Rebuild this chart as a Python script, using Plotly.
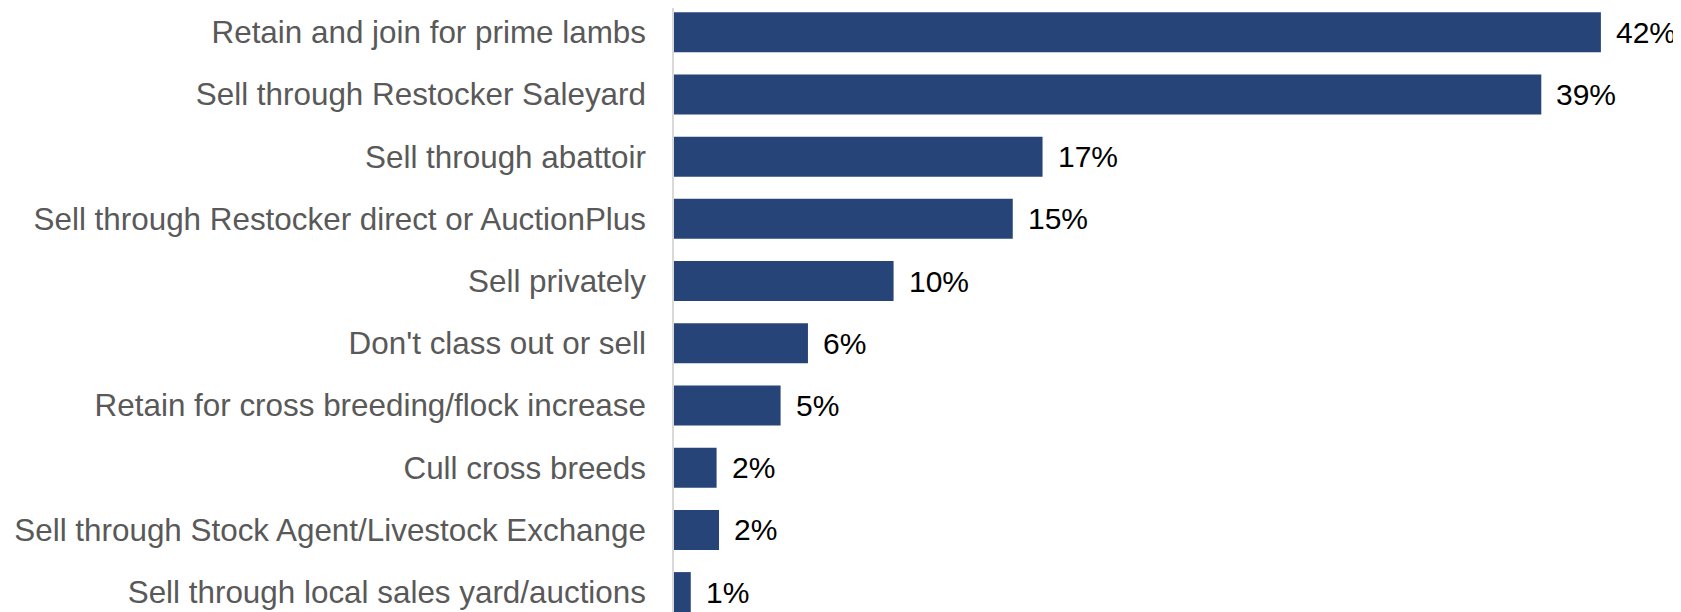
import plotly.graph_objects as go

# options, top to bottom
categories = [
    "Retain and join for prime lambs",
    "Sell through Restocker Saleyard",
    "Sell through abattoir",
    "Sell through Restocker direct or AuctionPlus",
    "Sell privately",
    "Don't class out or sell",
    "Retain for cross breeding/flock increase",
    "Cull cross breeds",
    "Sell through Stock Agent/Livestock Exchange",
    "Sell through local sales yard/auctions",
]
share_pct = [42.0, 39.3, 16.7, 15.35, 9.95, 6.07, 4.83, 1.93, 2.04, 0.76]
share_labels = ["42%", "39%", "17%", "15%", "10%", "6%", "5%", "2%", "2%", "1%"]

bar_color = "#264478"

fig = go.Figure()
fig.add_trace(go.Bar(
    x=share_pct,
    y=categories,
    orientation="h",
    marker=dict(color=bar_color, line=dict(width=0)),
    hoverinfo="skip",
))

for val, cat, lab in zip(share_pct, categories, share_labels):
    fig.add_annotation(
        x=val, y=cat, text=lab,
        xanchor="left", yanchor="middle", xshift=13,
        showarrow=False,
        font=dict(family="Liberation Sans, Arial", size=30, color="#000000"),
    )

# page body adds an 8px margin, so the figure is a bit smaller than the window
fig.update_layout(
    width=1673, height=604,
    margin=dict(l=666, r=0, t=0, b=0),
    plot_bgcolor="white", paper_bgcolor="white",
    bargap=0.357,
    showlegend=False,
    font=dict(family="Liberation Sans, Arial"),
)
fig.update_xaxes(
    range=[0, 45.63],
    showgrid=False, zeroline=False, showline=False,
    showticklabels=False, ticks="", automargin=False,
)
fig.update_yaxes(
    range=[9.32, -0.39],
    showgrid=False, zeroline=False,
    showline=True, linecolor="#d9d9d9", linewidth=1.5,
    ticks="", ticklabelstandoff=20, automargin=False,
    tickfont=dict(family="Liberation Sans, Arial", size=31.4, color="#595959"),
)

fig.write_html("out.html")
